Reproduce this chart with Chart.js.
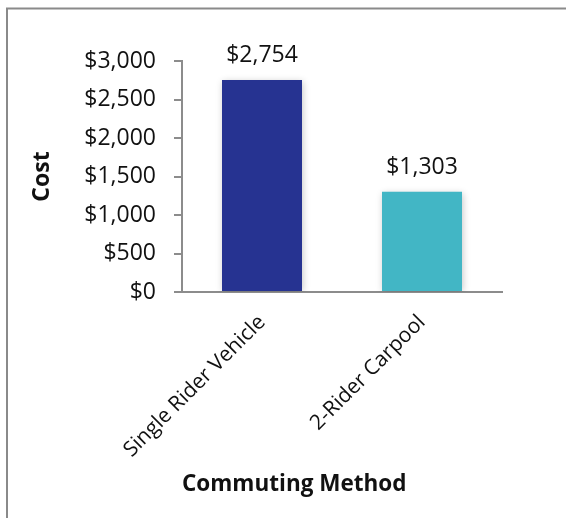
<!DOCTYPE html>
<html>
<head>
<meta charset="utf-8">
<script src="https://cdn.jsdelivr.net/npm/chart.js@4/dist/chart.umd.min.js"></script>
<style>
  html, body { margin: 0; padding: 0; background: #fff; }
  #wrap { width: 566px; height: 518px; position: relative; }
</style>
</head>
<body>
<div id="wrap"><canvas id="costChart"></canvas></div>
<script>
const categories = ['Single Rider Vehicle', '2-Rider Carpool'];
const costs = [2754, 1303];
const barColors = ['#263391', '#42b6c5'];
const yTicks = [0, 500, 1000, 1500, 2000, 2500, 3000];

const money = (v) => '$' + v.toLocaleString('en-US');
const FONT = '"Open Sans", sans-serif';

// frame along the top and left edges
const framePlugin = {
  id: 'frame',
  beforeDraw(chart) {
    const ctx = chart.ctx;
    ctx.save();
    ctx.strokeStyle = '#8a8a8a';
    ctx.lineWidth = 2;
    ctx.beginPath();
    ctx.moveTo(7, chart.height);
    ctx.lineTo(7, 8.5);
    ctx.lineTo(chart.width, 8.5);
    ctx.stroke();
    ctx.restore();
  },
};

// soft glow under the bars
const barShadow = {
  id: 'barShadow',
  beforeDatasetDraw(chart) {
    const ctx = chart.ctx;
    ctx.save();
    ctx.shadowColor = 'rgba(0,0,0,0.22)';
    ctx.shadowBlur = 7;
    ctx.shadowOffsetX = 1;
    ctx.shadowOffsetY = 1;
  },
  afterDatasetDraw(chart) {
    chart.ctx.restore();
  },
};

// value labels above each bar
const valueLabels = {
  id: 'valueLabels',
  afterDatasetsDraw(chart) {
    const ctx = chart.ctx;
    const meta = chart.getDatasetMeta(0);
    ctx.save();
    ctx.fillStyle = '#111';
    ctx.font = '23px ' + FONT;
    ctx.textAlign = 'center';
    ctx.textBaseline = 'alphabetic';
    meta.data.forEach((bar, i) => {
      ctx.fillText(money(costs[i]), bar.x, bar.y - 18);
    });
    ctx.restore();
  },
};

new Chart(document.getElementById('costChart'), {
  type: 'bar',
  data: {
    labels: categories,
    datasets: [{
      data: costs,
      backgroundColor: barColors,
      borderWidth: 0,
      barPercentage: 0.5,
      categoryPercentage: 1,
    }],
  },
  options: {
    responsive: true,
    maintainAspectRatio: false,
    animation: false,
    devicePixelRatio: 1,
    layout: { padding: { top: 61, right: 64, left: 0, bottom: 0 } },
    plugins: {
      legend: { display: false },
      tooltip: { enabled: false },
    },
    scales: {
      x: {
        afterFit: (s) => { s.height = 226; },
        grid: { display: false, drawTicks: false },
        border: { display: true, color: '#8c8c8c', width: 2 },
        ticks: {
          color: '#111',
          font: { family: FONT, size: 21 },
          minRotation: 45,
          maxRotation: 45,
          padding: 18,
        },
        title: {
          display: true,
          text: 'Commuting Method',
          align: 'start',
          color: '#111',
          font: { family: FONT, size: 22.5, weight: 'bold' },
          padding: { bottom: 20 },
        },
      },
      y: {
        min: 0,
        max: 3000,
        afterFit: (s) => { s.width = 182; },
        afterBuildTicks: (s) => { s.ticks = yTicks.map((v) => ({ value: v })); },
        grid: { display: true, drawOnChartArea: false, tickLength: 8, color: '#8c8c8c', lineWidth: 2 },
        border: { display: true, color: '#8c8c8c', width: 2 },
        ticks: {
          color: '#111',
          font: { family: FONT, size: 23 },
          padding: 18,
          callback: (v) => money(v),
        },
        title: {
          display: true,
          text: 'Cost',
          color: '#111',
          font: { family: FONT, size: 23, weight: 'bold' },
          padding: { top: 29 },
        },
      },
    },
  },
  plugins: [framePlugin, barShadow, valueLabels],
});
</script>
</body>
</html>
